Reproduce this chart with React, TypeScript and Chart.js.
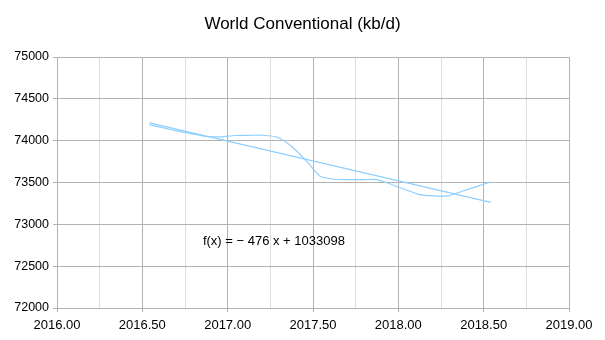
import React, { useEffect, useRef } from "react";
import { Chart, registerables } from "chart.js";

Chart.register(...registerables);

const titleText = "World Conventional (kb/d)";
const equationText = "f(x) = \u2212 476 x + 1033098";

// Monthly points, Jul 2016 .. Jul 2018 (decimal years)
const months: number[] = [
  2016.542, 2016.625, 2016.708, 2016.792, 2016.875, 2016.958,
  2017.042, 2017.125, 2017.208, 2017.292, 2017.375, 2017.458,
  2017.542, 2017.625, 2017.708, 2017.792, 2017.875, 2017.958,
  2018.042, 2018.125, 2018.208, 2018.292, 2018.375, 2018.458,
  2018.542,
];
const production: number[] = [
  74189, 74152, 74115, 74082, 74050, 74046,
  74062, 74064, 74065, 74041, 73931, 73764,
  73574, 73539, 73535, 73535, 73535, 73479,
  73414, 73355, 73340, 73340, 73396, 73450,
  73507,
];
const trendX: number[] = [2016.542, 2018.542];
const trendY: number[] = [74213, 73262];

const xTicks = { min: 2016, max: 2019, step: 0.25 };
const yTicks = { min: 72000, max: 75000, step: 500 };
const equationAt = { x: 2017.271, y: 72790 };

const lineColor = "#8ecfff";
const majorGrid = "#b3b3b3";
const minorGrid = "#dddddd";
const FONT = '"Liberation Sans", Arial, sans-serif';

const isMajor = (v: number) => Math.abs(v * 2 - Math.round(v * 2)) < 1e-6;

export default function App() {
  const ref = useRef<HTMLCanvasElement | null>(null);
  useEffect(() => {
    if (!ref.current) return;
    const textPlugin = {
      id: "texts",
      afterDraw(chart: any) {
        const ctx = chart.ctx;
        const xs = chart.scales.x;
        const ys = chart.scales.y;
        ctx.save();
        ctx.fillStyle = "#000";
        ctx.textAlign = "center";
        ctx.textBaseline = "middle";
        ctx.font = `17px ${FONT}`;
        ctx.fillText(titleText, chart.width / 2, 24);
        ctx.font = `13px ${FONT}`;
        ctx.fillText(
          equationText,
          xs.getPixelForValue(equationAt.x),
          ys.getPixelForValue(equationAt.y)
        );
        ctx.restore();
      },
    };
    const chart = new Chart(ref.current, {
      type: "scatter",
      data: {
        datasets: [
          {
            data: months.map((m, i) => ({ x: m, y: production[i] })),
            showLine: true,
            borderColor: lineColor,
            borderWidth: 1.2,
            pointRadius: 0,
            tension: 0.2,
          },
          {
            data: trendX.map((m, i) => ({ x: m, y: trendY[i] })),
            showLine: true,
            borderColor: lineColor,
            borderWidth: 1.2,
            pointRadius: 0,
          },
        ],
      },
      options: {
        animation: false,
        responsive: false,
        layout: { padding: { top: 57, right: 36, left: 0, bottom: 0 } },
        plugins: {
          legend: { display: false },
          tooltip: { enabled: false },
          title: { display: false },
        },
        scales: {
          x: {
            type: "linear",
            min: xTicks.min,
            max: xTicks.max,
            afterFit: (s: any) => {
              s.height = 32;
            },
            ticks: {
              stepSize: xTicks.step,
              autoSkip: false,
              maxRotation: 0,
              padding: 6,
              color: "#000",
              font: { family: FONT, size: 13 },
              callback: (v: any) => (isMajor(Number(v)) ? Number(v).toFixed(2) : ""),
            },
            grid: {
              color: (c: any) => (isMajor(c.tick?.value ?? 0) ? majorGrid : minorGrid),
              tickColor: (c: any) =>
                isMajor(c.tick?.value ?? 0) ? majorGrid : "rgba(0,0,0,0)",
              tickLength: 4,
              lineWidth: 1,
            },
            border: { color: majorGrid },
          },
          y: {
            type: "linear",
            min: yTicks.min,
            max: yTicks.max,
            afterFit: (s: any) => {
              s.width = 57;
            },
            ticks: {
              stepSize: yTicks.step,
              padding: 4,
              color: "#000",
              font: { family: FONT, size: 12.5 },
              callback: (v: any) => String(v),
            },
            grid: {
              color: majorGrid,
              tickColor: majorGrid,
              tickLength: 4,
              lineWidth: 1,
            },
            border: { color: majorGrid },
          },
        },
      },
      plugins: [textPlugin],
    } as any);
    return () => chart.destroy();
  }, []);
  return (
    <div style={{ position: "fixed", left: 0, top: 0, width: 605, height: 340, background: "#fff" }}>
      <canvas ref={ref} width={605} height={340} />
    </div>
  );
}
